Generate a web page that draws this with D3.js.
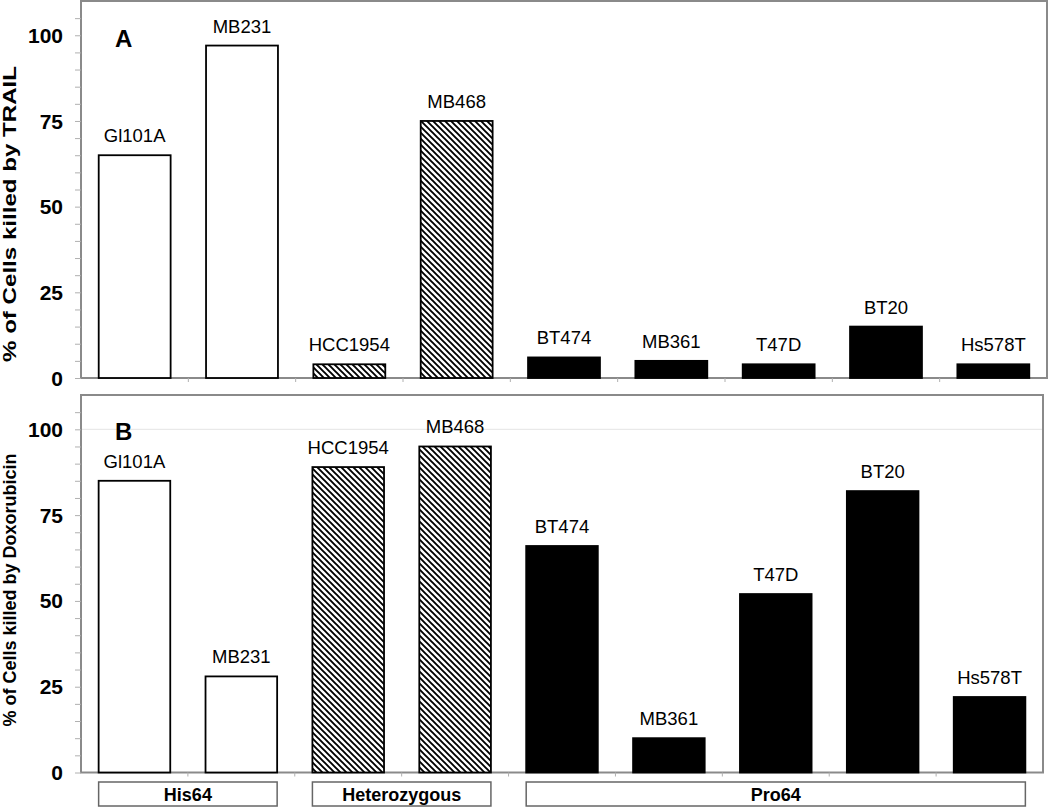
<!DOCTYPE html>
<html>
<head>
<meta charset="utf-8">
<script src="https://cdn.jsdelivr.net/npm/d3@7"></script>
<style>
  html, body { margin: 0; padding: 0; background: #fff; }
  svg { display: block; font-family: "Liberation Sans", Arial, sans-serif; }
</style>
</head>
<body>
<svg id="chart" width="1050" height="807"></svg>
<script>
// ---- data ----
const categories = ["Gl101A", "MB231", "HCC1954", "MB468", "BT474", "MB361", "T47D", "BT20", "Hs578T"];
const genotype = ["His64", "His64", "Heterozygous", "Heterozygous", "Pro64", "Pro64", "Pro64", "Pro64", "Pro64"];
const trailValues = [65, 97, 4, 75, 6, 5, 4, 15, 4];
const doxoValues = [85, 28, 89, 95, 66, 10, 52, 82, 22];
const groups = ["His64", "Heterozygous", "Pro64"];
const yTickLabels = [0, 25, 50, 75, 100];

const svg = d3.select("#chart");
const defs = svg.append("defs");
const pat = defs.append("pattern")
  .attr("id", "hatch").attr("patternUnits", "userSpaceOnUse")
  .attr("width", 6).attr("height", 6);
pat.append("rect").attr("width", 6).attr("height", 6).attr("fill", "#fff");
pat.append("path")
  .attr("d", "M0,0 L6,6 M-3,3 L3,9 M3,-3 L9,3")
  .attr("stroke", "#000").attr("stroke-width", 1.9);

const fillFor = g => g === "His64" ? "#fff" : (g === "Heterozygous" ? "url(#hatch)" : "#000");

function panel(opts) {
  const { x0, x1, yTop, yZero, values, letter, title, titleLen, titleY, grid100 } = opts;
  const x = d3.scaleBand().domain(categories).range([x0, x1]).paddingInner(0.33).paddingOuter(0.165);
  const y = d3.scaleLinear().domain([0, 110]).range([yZero, yTop]);
  const g = svg.append("g");

  if (grid100) {
    g.append("line").attr("x1", x0).attr("x2", x1).attr("y1", y(100)).attr("y2", y(100))
      .attr("stroke", "#e4e4e4").attr("stroke-width", 1);
  }

  // frame
  g.append("rect").attr("x", x0).attr("y", yTop).attr("width", x1 - x0).attr("height", yZero - yTop)
    .attr("fill", "none").attr("stroke", "#8a8a8a").attr("stroke-width", 2);

  // y axis minor ticks
  const yAxis = d3.axisLeft(y).tickValues(d3.range(0, 110, 5)).tickSize(6).tickFormat("");
  const ya = g.append("g").attr("transform", `translate(${x0},0)`).call(yAxis);
  ya.select(".domain").remove();
  ya.selectAll(".tick line").attr("stroke", "#b0b0b0");

  // y tick labels
  g.selectAll(".ylab").data(yTickLabels).enter().append("text")
    .attr("x", x0 - 18).attr("y", d => y(d)).attr("dy", "0.36em")
    .attr("text-anchor", "end").attr("font-weight", "bold").attr("font-size", 21)
    .attr("fill", "#000").text(d => d);

  // x axis ticks (category boundaries)
  const bounds = categories.map(c => x(c) - x.step() * x.paddingInner() / 2).slice(1);
  g.selectAll(".xt").data(bounds).enter().append("line")
    .attr("x1", d => d).attr("x2", d => d).attr("y1", yZero).attr("y2", yZero + 4)
    .attr("stroke", "#b0b0b0");

  // bars
  g.selectAll(".bar").data(categories).enter().append("rect")
    .attr("x", d => x(d)).attr("width", x.bandwidth())
    .attr("y", (d, i) => y(values[i])).attr("height", (d, i) => yZero - y(values[i]))
    .attr("fill", (d, i) => fillFor(genotype[i]))
    .attr("stroke", "#000").attr("stroke-width", 1.8);

  // bar labels
  g.selectAll(".blab").data(categories).enter().append("text")
    .attr("x", d => x(d) + x.bandwidth() / 2).attr("y", (d, i) => y(values[i]) - 13)
    .attr("text-anchor", "middle").attr("font-size", 18.5).attr("fill", "#000").text(d => d);

  // panel letter
  g.append("text").attr("x", 115).attr("y", letter.y).attr("font-size", 24).attr("font-weight", "bold")
    .text(letter.t);

  // y title
  const t = g.append("text").attr("transform", `translate(16,${titleY}) rotate(-90)`)
    .attr("text-anchor", "middle").attr("font-size", 18).attr("font-weight", "bold")
    .text(title);
  if (titleLen) t.attr("textLength", titleLen).attr("lengthAdjust", "spacingAndGlyphs");
  return x;
}

panel({ x0: 81, x1: 1047, yTop: 1, yZero: 378, values: trailValues,
  letter: { t: "A", y: 47 }, title: "% of Cells killed by TRAIL", titleLen: 296, titleY: 214, grid100: false });
const xB = panel({ x0: 81, x1: 1043, yTop: 395, yZero: 772.5, values: doxoValues,
  letter: { t: "B", y: 440 }, title: "% of Cells killed by Doxorubicin", titleLen: null, titleY: 590, grid100: true });

// genotype group boxes
const gb = svg.append("g");
groups.forEach(grp => {
  const members = categories.filter((c, i) => genotype[i] === grp);
  const left = xB(members[0]);
  const right = xB(members[members.length - 1]) + xB.bandwidth();
  gb.append("rect").attr("x", left).attr("y", 782).attr("width", right - left).attr("height", 24)
    .attr("fill", "#fff").attr("stroke", "#666").attr("stroke-width", 1.5);
  gb.append("text").attr("x", (left + right) / 2).attr("y", 801)
    .attr("text-anchor", "middle").attr("font-size", 18).attr("font-weight", "bold").text(grp);
});
</script>
</body>
</html>
